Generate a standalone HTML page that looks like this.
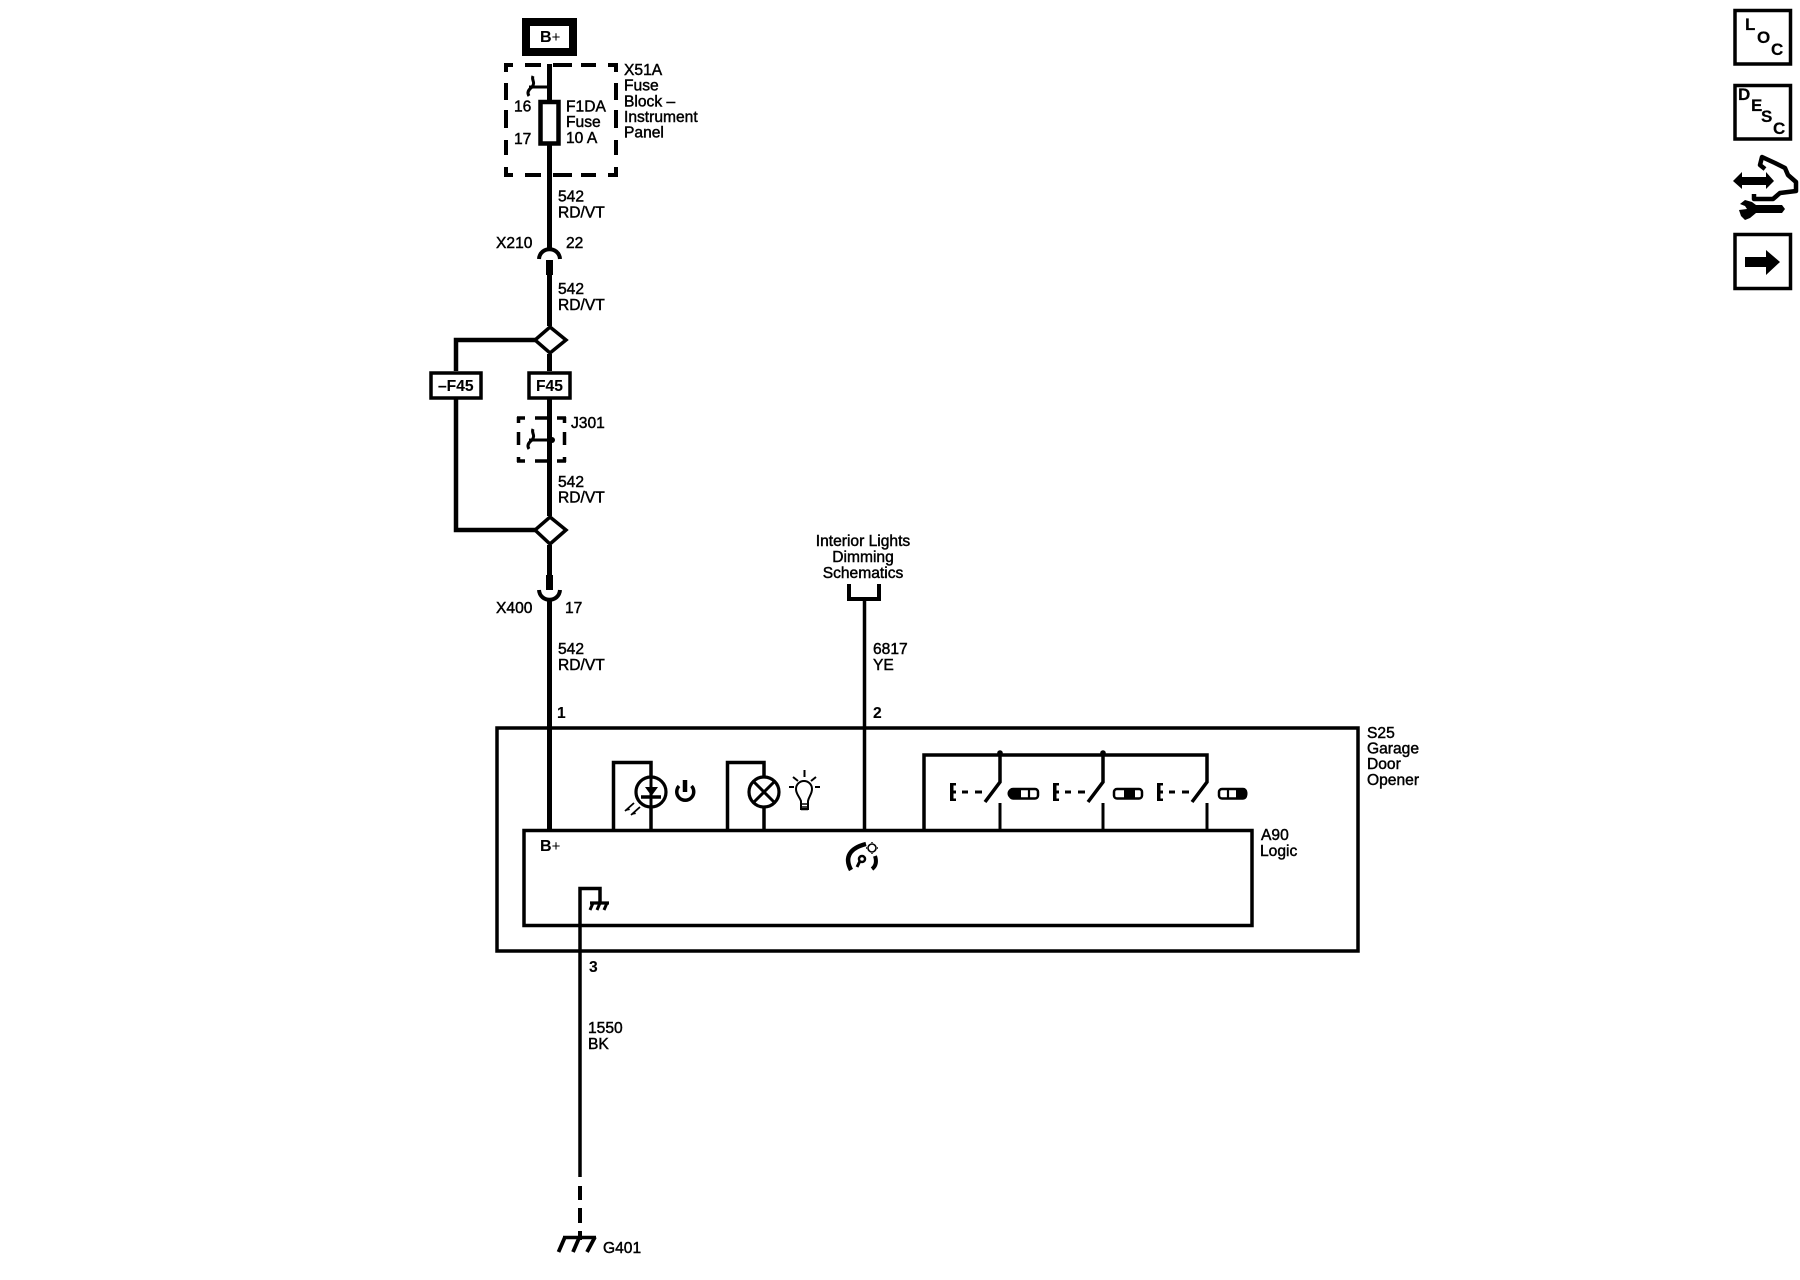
<!DOCTYPE html>
<html><head><meta charset="utf-8"><style>
html,body{margin:0;padding:0;background:#fff}
svg{display:block}
text{font-family:"Liberation Sans",Arial,sans-serif;font-size:15.6px;fill:#000;stroke:#000;stroke-width:.45}
.b{font-weight:bold;stroke-width:.1}
.c{font-size:17px;font-weight:bold;stroke-width:.2}
</style></head><body>
<svg width="1800" height="1280" viewBox="0 0 1800 1280" xmlns="http://www.w3.org/2000/svg">
<rect width="1800" height="1280" fill="#fff"/>
<g fill="none" stroke="#000" stroke-width="3.5">
<!-- B+ -->
<rect x="526" y="22" width="47" height="30" stroke-width="8"/>
<!-- main wire -->
<path d="M549.5 64V248M549.5 275V326M549.5 354V371M549.5 399V516M549.5 545V575M549.5 600V831" stroke-width="5"/>
<path d="M549.5 260V275M549.5 575V590" stroke-width="7"/>
<!-- X51A dashed -->
<path stroke-width="4" d="M504 65H513M525 65H541M553 65H572M581 65H596M608 65H618M504 175H513M525 175H541M553 175H572M581 175H596M608 175H618M506 65V72M506 83V100M506 110V128M506 140V155M506 167V177M616 65V72M616 83V100M616 110V128M616 140V155M616 167V177"/>
<path d="M552 87H529M533 76C531 80 536 82 532 87C528 90 527 93 529 96" stroke-width="3"/>
<rect x="540.5" y="102" width="18" height="41.5" stroke-width="4.5" fill="#fff"/>
<!-- X210 / X400 arcs -->
<path d="M539 259C540 246 559 246 560 259" stroke-width="4"/>
<path d="M539 590C540 603 559 603 560 590" stroke-width="4"/>
<!-- diamonds -->
<path d="M550 327L566 340L550 353L535 340Z" stroke-width="3.5" fill="#fff"/>
<path d="M550 517L566 530L550 544L535 530Z" stroke-width="3.5" fill="#fff"/>
<path d="M535 340H456V371M456 399V530H535" stroke-width="4.5"/>
<!-- F45 boxes -->
<rect x="431" y="373" width="50" height="25" stroke-width="3.5" fill="#fff"/>
<rect x="529" y="373" width="41" height="25" stroke-width="3.5" fill="#fff"/>
<!-- J301 -->
<path stroke-width="3.5" d="M517 418H525M535 418H547M557 418H566M517 461H525M535 461H547M557 461H566M518.5 417V423M518.5 432V445M518.5 457V462M564.5 417V423M564.5 432V445M564.5 457V462"/>
<path d="M552 440H529M533 429C531 433 536 435 532 440C528 443 527 446 529 449" stroke-width="3"/>
<circle cx="552" cy="440" r="3" fill="#000" stroke="none"/>
<!-- dim wire -->
<path d="M849 584V599H879V584" stroke-width="4"/>
<path d="M864.5 599V831" stroke-width="3.5"/>
<!-- S25 -->
<rect x="497" y="728" width="861" height="223" stroke-width="3.5"/>
<!-- A90 -->
<rect x="524" y="830.5" width="728" height="95"/>
<!-- loops -->
<path d="M613.5 831V762.5H651V831M727.5 831V762.5H764V831" stroke-width="3.5"/>
<circle cx="651" cy="792" r="15" fill="#fff" stroke-width="3.2"/>
<path d="M651 777V807" stroke-width="3"/>
<path d="M641 797H661" stroke-width="3.5"/>
<path d="M645 787H658L651.5 796Z" fill="#000" stroke="none"/>
<path d="M625 811L634 803M631 815L640 807" stroke-width="1.8"/>
<path d="M625 811l5-1l-1-2zM631 815l5-1l-1-2z" fill="#000" stroke="none"/>
<!-- power -->
<path d="M679 786A8.5 8.5 0 1 0 691.5 786" stroke-width="3.5"/>
<path d="M685 780V792" stroke-width="4.5"/>
<!-- lamp -->
<circle cx="764" cy="792" r="15" fill="#fff" stroke-width="3.2"/>
<path d="M753.5 781.5L774.5 802.5M774.5 781.5L753.5 802.5" stroke-width="3"/>
<!-- bulb -->
<path d="M801 809V801C799 796 796 794 796 789A8 8 0 0 1 812 789C812 794 809 796 808 801V809Z" stroke-width="2"/>
<path d="M801 804H808M801 807H808M801 809.5H808" stroke-width="1.4"/>
<path d="M804.5 770V777M793 777L798 781M816 777L811 781M789 787H794M815 787H820" stroke-width="2"/>
<!-- switches -->
<path d="M924 831V755H1207V782L1192 802M1000 755V782L985 802M1103 755V782L1088 802" stroke-width="3.5"/>
<path d="M1000 803V831M1103 803V831M1207 803V831" stroke-width="3"/>
<circle cx="1000" cy="753" r="2.8" fill="#000" stroke="none"/>
<circle cx="1103" cy="753" r="2.8" fill="#000" stroke="none"/>
<!-- E marks -->
<path d="M950 783H956V785.5H953.5V790.5H956V793.5H953.5V798.5H956V801H950ZM962 790.5H968V793.5H962ZM975 790.5H982V793.5H975Z" fill="#000" stroke="none"/>
<path d="M1053 783H1059V785.5H1056.5V790.5H1059V793.5H1056.5V798.5H1059V801H1053ZM1065 790.5H1071V793.5H1065ZM1078 790.5H1085V793.5H1078Z" fill="#000" stroke="none"/>
<path d="M1157 783H1163V785.5H1160.5V790.5H1163V793.5H1160.5V798.5H1163V801H1157ZM1169 790.5H1175V793.5H1169ZM1182 790.5H1189V793.5H1182Z" fill="#000" stroke="none"/>
<!-- sliders -->
<rect x="1010" y="789" width="28" height="9.5" rx="3" stroke-width="2.5" fill="#fff"/>
<path d="M1013 788H1021V799H1013A5.5 5.5 0 0 1 1013 788Z" fill="#000" stroke="none"/>
<path d="M1029 789V799" stroke-width="2.2"/>
<rect x="1114" y="789" width="28" height="9.5" rx="3" stroke-width="2.5" fill="#fff"/>
<rect x="1124" y="788" width="11" height="11" fill="#000" stroke="none"/>
<rect x="1219" y="789" width="27" height="9.5" rx="3" stroke-width="2.5" fill="#fff"/>
<path d="M1236 788H1242A5.5 5.5 0 0 1 1242 799H1236Z" fill="#000" stroke="none"/>
<path d="M1228 789V799" stroke-width="2.2"/>
<!-- gauge icon -->
<path d="M851 870C844 857 850 848 866 844" stroke-width="4.5"/>
<path d="M857 867L860 861" stroke-width="3"/>
<circle cx="862" cy="859" r="3" stroke-width="2.5"/>
<path d="M875 856C877 862 876 866 872 869" stroke-width="4"/>
<circle cx="872" cy="848" r="4" stroke-width="1.6"/>
<path d="M872 842V843M872 853V854M866 848H867M877 848H878" stroke-width="1.4"/>
<!-- ground internal -->
<path d="M580 951V888.5H600V902" stroke-width="3.5"/>
<path d="M580 951V1177" stroke-width="3.5"/>
<path d="M590 903H609" stroke-width="3.2"/>
<path d="M593 903L590 910M600 903L597 910M607 903L604 910" stroke-width="3"/>
<!-- G401 -->
<path d="M580 1186V1200M580 1208V1223M580 1231V1240" stroke-width="4"/>
<path d="M563 1237.5H596" stroke-width="3.5"/>
<path d="M565 1237L558.5 1252M579.5 1237L573 1252M595 1237L587 1252" stroke-width="3.8"/>
<!-- right boxes -->
<rect x="1735" y="10.5" width="55.5" height="53.5"/>
<rect x="1735" y="85.5" width="55.5" height="53.5"/>
<rect x="1735" y="234.5" width="55.5" height="54"/>
</g>
<path d="M1745 257H1766V250L1780 262L1766 275V267H1745Z" fill="#000"/>
<!-- hand tool icon -->
<path d="M1733 181L1742 172V177H1766V172L1774 181L1766 189V185H1742V189Z" fill="#000"/>
<path d="M1765 169L1760 165L1762 157L1775 163L1785 168L1788 175L1796 182L1796 191L1780 193L1773 199H1754V194" fill="none" stroke="#000" stroke-width="4.5" stroke-linejoin="round"/>
<path d="M1745 200L1752 202L1756 205H1782L1785 209L1782 213H1756L1750 218L1745 220L1741 216L1739 210L1747 209L1745 206L1740 204Z" fill="#000"/>
<!-- labels -->
<text x="540" y="42" class="b" style="font-size:16px">B<tspan font-size="15" font-weight="normal" stroke-width="0">+</tspan></text>
<text x="624" y="75">X51A</text>
<text x="624" y="90.5">Fuse</text>
<text x="624" y="106.5">Block –</text>
<text x="624" y="122">Instrument</text>
<text x="624" y="137.5">Panel</text>
<text x="514" y="111.5">16</text>
<text x="514" y="144">17</text>
<text x="566" y="111.5">F1DA</text>
<text x="566" y="127">Fuse</text>
<text x="566" y="143">10 A</text>
<text x="558" y="201.5">542</text>
<text x="558" y="217.5">RD/VT</text>
<text x="496" y="248">X210</text>
<text x="566" y="248">22</text>
<text x="558" y="294">542</text>
<text x="558" y="310">RD/VT</text>
<text x="438" y="391" class="b">–F45</text>
<text x="536" y="391" class="b">F45</text>
<text x="571" y="428">J301</text>
<text x="558" y="487">542</text>
<text x="558" y="502.5">RD/VT</text>
<text x="496" y="613">X400</text>
<text x="565" y="613">17</text>
<text x="558" y="654">542</text>
<text x="558" y="670">RD/VT</text>
<text x="557" y="718" class="b">1</text>
<text x="873" y="718" class="b">2</text>
<text x="863" y="546" text-anchor="middle">Interior Lights</text>
<text x="863" y="562" text-anchor="middle">Dimming</text>
<text x="863" y="578" text-anchor="middle">Schematics</text>
<text x="873" y="654">6817</text>
<text x="873" y="670">YE</text>
<text x="1367" y="738">S25</text>
<text x="1367" y="753.5">Garage</text>
<text x="1367" y="769">Door</text>
<text x="1367" y="785">Opener</text>
<text x="1261" y="840">A90</text>
<text x="1260" y="856">Logic</text>
<text x="540" y="851" class="b" style="font-size:16px">B<tspan font-size="15" font-weight="normal" stroke-width="0">+</tspan></text>
<text x="589" y="972" class="b">3</text>
<text x="588" y="1033">1550</text>
<text x="588" y="1049">BK</text>
<text x="603" y="1253">G401</text>
<text x="1745" y="30" class="c">L</text>
<text x="1757" y="43" class="c">O</text>
<text x="1771" y="55" class="c">C</text>
<text x="1738" y="100" class="c">D</text>
<text x="1751" y="111" class="c">E</text>
<text x="1761" y="122" class="c">S</text>
<text x="1773" y="134" class="c">C</text>
</svg>
</body></html>
